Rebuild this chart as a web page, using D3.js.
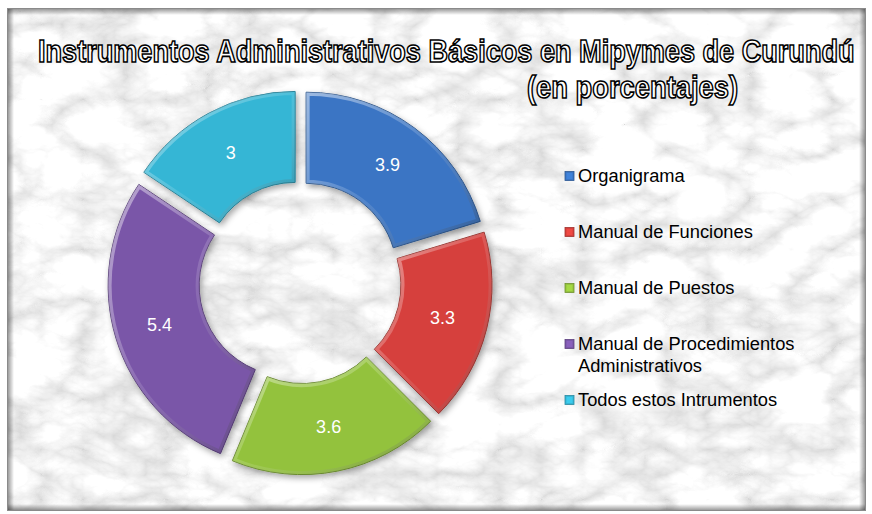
<!DOCTYPE html>
<html>
<head>
<meta charset="utf-8">
<script src="https://cdn.jsdelivr.net/npm/d3@7"></script>
<style>
  html, body { margin: 0; padding: 0; background: #ffffff; }
  svg { display: block; }
</style>
</head>
<body>
<div id="chart"></div>
<script>
// ---- data ----
const categories = [
  "Organigrama",
  "Manual de Funciones",
  "Manual de Puestos",
  "Manual de Procedimientos Administrativos",
  "Todos estos Intrumentos"
];
const values = [3.9, 3.3, 3.6, 5.4, 3];
const colors = ["#3a75c4", "#d6413c", "#93c23d", "#7a56a8", "#35b6d5"];
const titleLines = [
  "Instrumentos Administrativos Básicos en Mipymes de Curundú",
  "(en porcentajes)"
];

// ---- layout ----
const W = 872, H = 514;
const frame = {x: 7, y: 8, w: 859, h: 503};
const cx = 300, cy = 282.5, outerR = 182, innerR = 91, explode = 10.3;

const svg = d3.select("#chart").append("svg")
  .attr("width", W).attr("height", H)
  .attr("font-family", "Arial, 'Liberation Sans', sans-serif");

const defs = svg.append("defs");

// marble texture
const marble = defs.append("filter").attr("id", "marble")
  .attr("filterUnits", "userSpaceOnUse")
  .attr("x", frame.x).attr("y", frame.y).attr("width", frame.w).attr("height", frame.h);
marble.append("feTurbulence").attr("type", "turbulence")
  .attr("baseFrequency", "0.012 0.02").attr("numOctaves", 5).attr("seed", 7).attr("result", "t");
marble.append("feColorMatrix").attr("in", "t").attr("type", "matrix")
  .attr("values", "0.8 0 0 0 0.68  0.8 0 0 0 0.68  0.8 0 0 0 0.68  0 0 0 0 1")
  .attr("result", "g");
marble.append("feGaussianBlur").attr("in", "g").attr("stdDeviation", 0.6);

// drop shadow for segments
const shadow = defs.append("filter").attr("id", "shadow")
  .attr("x", "-20%").attr("y", "-20%").attr("width", "140%").attr("height", "140%");
shadow.append("feDropShadow").attr("dx", 2).attr("dy", 3).attr("stdDeviation", 3)
  .attr("flood-color", "#000").attr("flood-opacity", 0.35);

// bevel gradient (stroke overlay)
const bev = defs.append("linearGradient").attr("id", "bevel")
  .attr("x1", 0).attr("y1", 0).attr("x2", 1).attr("y2", 1);
bev.append("stop").attr("offset", "0%").attr("stop-color", "#fff").attr("stop-opacity", 0.5);
bev.append("stop").attr("offset", "50%").attr("stop-color", "#fff").attr("stop-opacity", 0.12);
bev.append("stop").attr("offset", "100%").attr("stop-color", "#000").attr("stop-opacity", 0.25);

// edge shading gradients for frame
function edgeGrad(id, x1, y1, x2, y2) {
  const g = defs.append("linearGradient").attr("id", id)
    .attr("x1", x1).attr("y1", y1).attr("x2", x2).attr("y2", y2);
  g.append("stop").attr("offset", "0%").attr("stop-color", "#000").attr("stop-opacity", 0.45);
  g.append("stop").attr("offset", "100%").attr("stop-color", "#000").attr("stop-opacity", 0);
}
edgeGrad("eTop", 0, 0, 0, 1);
edgeGrad("eBot", 0, 1, 0, 0);
edgeGrad("eLeft", 0, 0, 1, 0);
edgeGrad("eRight", 1, 0, 0, 0);

// ---- background frame ----
svg.append("rect").attr("x", frame.x).attr("y", frame.y)
  .attr("width", frame.w).attr("height", frame.h)
  .attr("fill", "#e2e2e2").attr("filter", "url(#marble)");
const ew = 7;
svg.append("rect").attr("x", frame.x).attr("y", frame.y).attr("width", frame.w).attr("height", ew).attr("fill", "url(#eTop)");
svg.append("rect").attr("x", frame.x).attr("y", frame.y + frame.h - ew).attr("width", frame.w).attr("height", ew).attr("fill", "url(#eBot)");
svg.append("rect").attr("x", frame.x).attr("y", frame.y).attr("width", ew).attr("height", frame.h).attr("fill", "url(#eLeft)");
svg.append("rect").attr("x", frame.x + frame.w - ew).attr("y", frame.y).attr("width", ew).attr("height", frame.h).attr("fill", "url(#eRight)");
svg.append("rect").attr("x", frame.x + 0.5).attr("y", frame.y + 0.5)
  .attr("width", frame.w - 1).attr("height", frame.h - 1)
  .attr("fill", "none").attr("stroke", "#8a8a8a").attr("stroke-width", 1);

// ---- title (horizontally condensed to match) ----
function condensedTitle(txt, x, y, targetW) {
  const g = svg.append("g");
  const t = g.append("text").attr("x", 0).attr("y", 0)
    .attr("font-weight", "bold").attr("font-size", 32)
    .attr("fill", "#ffffff").attr("stroke", "#000").attr("stroke-width", 1.5)
    .text(txt);
  const w = t.node().getComputedTextLength();
  const sx = targetW / w;
  g.attr("transform", `translate(${x},${y}) scale(${sx},1)`);
  t.attr("stroke-width", 1.5 / Math.sqrt(sx));
}
condensedTitle(titleLines[0], 38, 62, 817);
condensedTitle(titleLines[1], 527, 98, 211);

// ---- donut ----
const pie = d3.pie().sort(null).value(d => d.value).startAngle(0).endAngle(2 * Math.PI);
const arcs = pie(values.map((v, i) => ({value: v, name: categories[i], color: colors[i], i})));
const arc = d3.arc().innerRadius(innerR).outerRadius(outerR);
const labelArc = d3.arc().innerRadius((innerR + outerR) / 2).outerRadius((innerR + outerR) / 2);

const donut = svg.append("g").attr("transform", `translate(${cx},${cy})`);

const seg = donut.selectAll("g.seg").data(arcs).join("g").attr("class", "seg")
  .attr("transform", d => {
    const a = (d.startAngle + d.endAngle) / 2;
    return `translate(${Math.sin(a) * explode},${-Math.cos(a) * explode})`;
  });

seg.each(function(d, i) {
  const g = d3.select(this);
  const id = "clip" + i;
  defs.append("clipPath").attr("id", id).append("path").attr("d", arc(d));
  const inner = g.append("g").attr("filter", "url(#shadow)");
  inner.append("path").attr("d", arc(d))
    .attr("fill", d.data.color)
    .attr("stroke", d3.color(d.data.color).darker(1).formatHex())
    .attr("stroke-width", 1);
  g.append("path").attr("d", arc(d))
    .attr("fill", "none")
    .attr("stroke", "url(#bevel)")
    .attr("stroke-width", 7)
    .attr("clip-path", `url(#${id})`);
});

seg.append("text")
  .attr("transform", d => `translate(${labelArc.centroid(d)})`)
  .attr("text-anchor", "middle").attr("dy", "0.35em")
  .attr("font-size", 18).attr("fill", "#ffffff")
  .text(d => d.data.value);

// ---- legend ----
const legend = svg.append("g").attr("font-size", 18.3).attr("fill", "#000");
const ly0 = 176, lstep = 56, lx = 565;
categories.forEach((name, i) => {
  const y = ly0 + i * lstep;
  const c = colors[i];
  legend.append("rect").attr("x", lx).attr("y", y - 4.5).attr("width", 9).attr("height", 9)
    .attr("fill", c).attr("stroke", d3.color(c).darker(0.8).formatHex()).attr("stroke-width", 0.8);
  legend.append("rect").attr("x", lx + 1.5).attr("y", y - 3).attr("width", 6).attr("height", 6)
    .attr("fill", d3.color(c).brighter(0.5).formatHex()).attr("opacity", 0.6);
  const t = legend.append("text").attr("x", 578).attr("y", y);
  const words = name.split(" ");
  let line = [], lines = [];
  const probe = legend.append("text").attr("visibility", "hidden");
  words.forEach(w => {
    const test = line.concat([w]).join(" ");
    probe.text(test);
    if (probe.node().getComputedTextLength() > 240 && line.length) {
      lines.push(line.join(" "));
      line = [w];
    } else line.push(w);
  });
  lines.push(line.join(" "));
  probe.remove();
  lines.forEach((ln, k) => {
    t.append("tspan").attr("x", 578).attr("dy", k === 0 ? "0.35em" : 22).text(ln);
  });
});
</script>
</body>
</html>
